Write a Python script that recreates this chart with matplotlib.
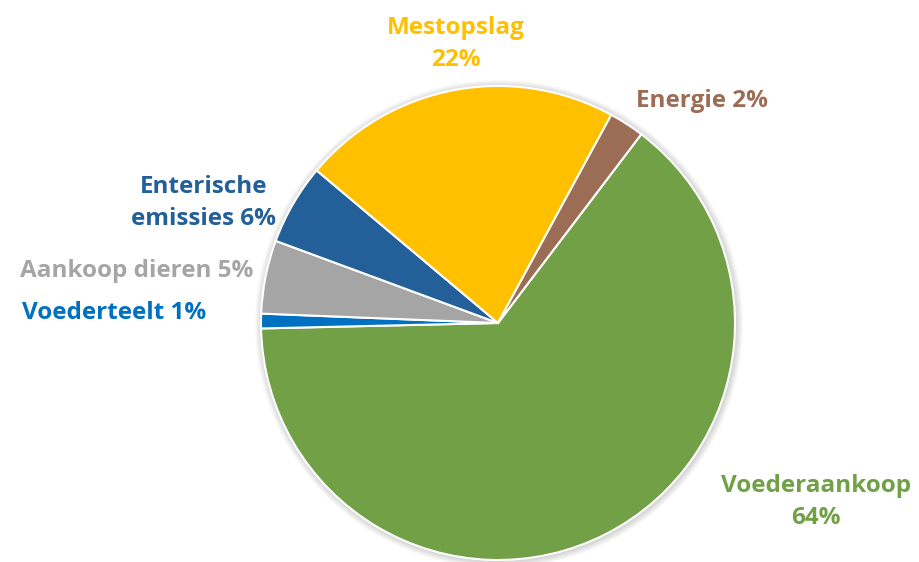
import matplotlib.pyplot as plt
from matplotlib.patches import Circle

names = ['Voederaankoop', 'Voederteelt', 'Aankoop dieren', 'Enterische\nemissies', 'Mestopslag', 'Energie']
values = [64.3, 1.0, 5.0, 5.5, 21.8, 2.4]
colors = ['#71A046', '#0070C0', '#A5A5A5', '#23609A', '#FFC000', '#9C6D55']

# label texts and where they sit (pixels, y from top)
label_text = ['Voederaankoop\n{p}', 'Voederteelt {p}', 'Aankoop dieren {p}',
              'Enterische\nemissies {p}', 'Mestopslag\n{p}', 'Energie {p}']
label_pos = [(816, 502), (114, 313), (137, 271), (205, 203), (456, 44), (702, 101)]
label_ha = ['center', 'center', 'center', 'right', 'center', 'center']

W, H = 920, 562
cx, cy, r = 498, 323, 237

fig = plt.figure(figsize=(W / 100, H / 100), dpi=100)
ax = fig.add_axes([0, 0, 1, 1])

# soft shadow round the pie
for k in range(1, 8):
    ax.add_patch(Circle((cx + 1, H - cy - 1), r + k, color='#000000', alpha=0.025, lw=0, zorder=0))

ax.pie(values, colors=colors, startangle=52.8, counterclock=False,
       center=(cx, H - cy), radius=r, frame=True,
       wedgeprops=dict(edgecolor='white', linewidth=1.5))
ax.set_xlim(0, W)
ax.set_ylim(0, H)
ax.set_aspect('equal')
ax.axis('off')

for i, v in enumerate(values):
    txt = label_text[i].format(p=f'{v:.0f}%')
    x, y = label_pos[i]
    if label_ha[i] == 'right':
        x = 276
    ax.text(x, H - y, txt, ha=label_ha[i], va='center', color=colors[i],
            fontsize=17.5, fontweight='bold', family='Open Sans',
            multialignment='center', linespacing=1.45)

fig.savefig('out.png', dpi=100)
